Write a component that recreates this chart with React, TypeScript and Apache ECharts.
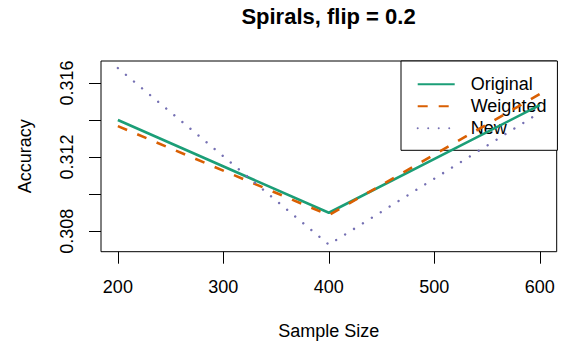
import React, { useEffect, useRef } from "react";
import * as echarts from "echarts";

const sampleSizes = [200, 400, 600];
const original = [0.314, 0.309, 0.3148];
const weighted = [0.31367, 0.30887, 0.3154];
const newMethod = [0.3168, 0.30728, 0.3144];

const xTicks = [200, 300, 400, 500, 600];
const yTicks = [0.308, 0.31, 0.312, 0.314, 0.316];
const yLabels = [0.308, 0.312, 0.316];

const FONT = "'Liberation Sans', Arial, Helvetica, sans-serif";

export default function App() {
  const ref = useRef<HTMLDivElement>(null);
  useEffect(() => {
    if (!ref.current) return;
    const chart = echarts.init(ref.current, null, { renderer: "svg" });
    const toPairs = (ys: number[]) => sampleSizes.map((x, i) => [x, ys[i]]);
    chart.setOption({
      animation: false,
      backgroundColor: "#ffffff",
      textStyle: { fontFamily: FONT },
      title: {
        text: "Spirals, flip = 0.2",
        left: 328.5,
        top: 5,
        padding: 0,
        textAlign: "center",
        textStyle: { fontFamily: FONT, fontSize: 22, fontWeight: "bold", color: "#000" },
      },
      grid: {
        left: 101,
        top: 61,
        right: 9.3,
        bottom: 98.3,
        show: true,
        borderColor: "#000",
        borderWidth: 1,
        backgroundColor: "transparent",
      },
      legend: {
        show: true,
        orient: "vertical",
        left: 401,
        top: 61,
        z: 1,
        padding: [14.3, 11, 13, 15.7],
        itemWidth: 37,
        itemHeight: 14,
        itemGap: 4,
        borderColor: "#000",
        borderWidth: 1,
        backgroundColor: "#fff",
        itemStyle: { color: "transparent", borderWidth: 0, opacity: 0 },
        textStyle: { fontFamily: FONT, fontSize: 18, lineHeight: 16, color: "#000", padding: [0, 0, 0, 11] },
        data: ["Original", "Weighted", "New"],
      },
      xAxis: {
        type: "value",
        min: 184,
        max: 616,
        name: "Sample Size",
        nameLocation: "middle",
        nameGap: 70,
        nameTextStyle: { fontFamily: FONT, fontSize: 18, color: "#000" },
        axisLine: { show: false },
        splitLine: { show: false },
        axisTick: { show: true, length: 12, customValues: xTicks, lineStyle: { color: "#000", width: 1 } },
        axisLabel: { customValues: xTicks, margin: 26, fontFamily: FONT, fontSize: 18, color: "#000" },
      },
      yAxis: {
        type: "value",
        min: 0.306899,
        max: 0.317181,
        name: "Accuracy",
        nameLocation: "middle",
        nameGap: 67,
        nameRotate: 90,
        nameTextStyle: { fontFamily: FONT, fontSize: 18, color: "#000" },
        axisLine: { show: false },
        splitLine: { show: false },
        axisTick: { show: true, length: 12, customValues: yTicks, lineStyle: { color: "#000", width: 1 } },
        axisLabel: {
          customValues: yLabels,
          rotate: 90,
          margin: 25,
          fontFamily: FONT,
          fontSize: 18,
          color: "#000",
          formatter: (v: number) => v.toFixed(3),
        },
      },
      series: [
        {
          name: "Original",
          type: "line",
          data: toPairs(original),
          showSymbol: false,
          symbol: "none",
          z: 3,
          itemStyle: { color: "#1B9E77" },
          lineStyle: { color: "#1B9E77", width: 2.6, type: "solid" },
        },
        {
          name: "Weighted",
          type: "line",
          data: toPairs(weighted),
          showSymbol: false,
          symbol: "none",
          z: 3,
          itemStyle: { color: "#D95F02" },
          lineStyle: { color: "#D95F02", width: 2.6, type: [10, 11] },
        },
        {
          name: "New",
          type: "line",
          data: toPairs(newMethod),
          showSymbol: false,
          symbol: "none",
          z: 3,
          itemStyle: { color: "#7570B3" },
          lineStyle: { color: "#7570B3", width: 2.4, type: [0.01, 10.5], cap: "round" },
        },
      ],
    });
    return () => chart.dispose();
  }, []);
  return (
    <div
      ref={ref}
      style={{ position: "fixed", left: 0, top: 0, width: 566, height: 350 }}
    />
  );
}
